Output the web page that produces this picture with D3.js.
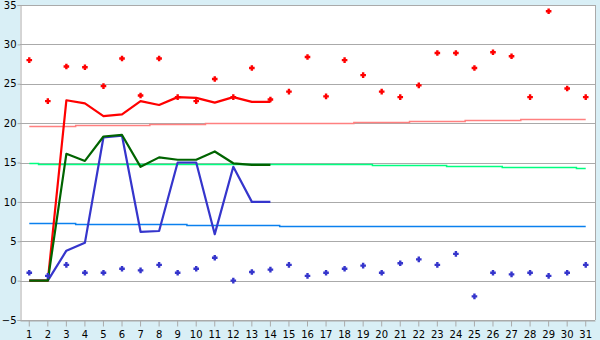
<!DOCTYPE html>
<html>
<head>
<meta charset="utf-8">
<script src="https://cdn.jsdelivr.net/npm/d3@7"></script>
<style>
  html, body { margin: 0; padding: 0; background: #d9eff6; }
  svg { display: block; }
</style>
</head>
<body>
<svg id="chart" width="600" height="340"></svg>
<script>
// ---- Data ----
const days = [1,2,3,4,5,6,7,8,9,10,11,12,13,14,15,16,17,18,19,20,21,22,23,24,25,26,27,28,29,30,31];
const yTicks = [-5,0,5,10,15,20,25,30,35];

// scatter markers
const redPoints  = [28.0,22.8,27.2,27.1,24.7,28.2,23.5,28.2,23.3,22.8,25.6,23.3,27.0,23.0,24.0,28.4,23.4,28.0,26.1,24.0,23.3,24.8,28.9,28.9,27.0,29.0,28.5,23.3,34.2,24.4,23.3];
const bluePoints = [1.0,0.6,2.0,1.0,1.0,1.5,1.3,2.0,1.0,1.5,2.9,0.0,1.1,1.4,2.0,0.6,1.0,1.5,1.9,1.0,2.2,2.7,2.0,3.4,-2.0,1.0,0.8,1.0,0.6,1.0,2.0];

// thick lines (days 1-14)
const redLine   = [0,0,22.9,22.5,20.9,21.1,22.8,22.3,23.3,23.2,22.6,23.3,22.7,22.7];
const greenLine = [0,0,16.1,15.2,18.3,18.5,14.45,15.65,15.35,15.35,16.4,14.9,14.7,14.7];
const blueLine  = [0,0,3.8,4.8,18.2,18.4,6.2,6.3,15.0,15.0,5.9,14.45,10.0,10.0];

// thin stepped reference lines (all days)
const pinkRef  = [19.6,19.6,19.6,19.72,19.72,19.72,19.72,19.85,19.85,19.85,19.97,19.97,19.97,19.97,19.97,19.97,19.97,19.97,20.1,20.1,20.1,20.23,20.23,20.23,20.36,20.36,20.36,20.48,20.48,20.48,20.48];
const greenRef = [15.0,14.86,14.86,14.86,14.86,14.86,14.86,14.86,14.86,14.86,14.86,14.86,14.86,14.86,14.86,14.86,14.86,14.86,14.86,14.63,14.63,14.63,14.63,14.5,14.5,14.5,14.38,14.38,14.38,14.38,14.25];
const blueRef  = [7.38,7.38,7.38,7.25,7.25,7.25,7.25,7.25,7.25,7.12,7.12,7.12,7.12,7.12,7.0,7.0,7.0,7.0,7.0,7.0,7.0,7.0,7.0,7.0,7.0,7.0,7.0,7.0,7.0,7.0,7.0];

// ---- Layout ----
const svg = d3.select("#chart");
const L = 20, R = 595, T = 5, B = 320;
const font = "DejaVu Sans, Verdana, sans-serif";

const x = d3.scaleBand().domain(days).range([L, R]).padding(0);
const cx = d => x(d) + x.bandwidth() / 2;
const y = d3.scaleLinear().domain([-5, 35]).range([B, T]);
const crisp = v => Math.round(v) + 0.5;

svg.append("rect").attr("x", 0).attr("y", 0).attr("width", 600).attr("height", 340).attr("fill", "#d9eff6");
svg.append("rect").attr("x", L).attr("y", T).attr("width", R - L).attr("height", B - T).attr("fill", "#ffffff");

// gridlines
svg.append("g").selectAll("line").data(yTicks).join("line")
  .attr("x1", L).attr("x2", R)
  .attr("y1", d => crisp(y(d))).attr("y2", d => crisp(y(d)))
  .attr("stroke", "#aaaaaa").attr("stroke-width", 1);

// right border
svg.append("line").attr("x1", crisp(R)).attr("x2", crisp(R)).attr("y1", T).attr("y2", B)
  .attr("stroke", "#aaaaaa");

// axes
const yAxis = svg.append("g").attr("transform", `translate(${crisp(L)},0)`)
  .call(d3.axisLeft(y).tickValues(yTicks).tickSize(3).tickPadding(1).tickFormat(d3.format("d")));
yAxis.select(".domain").attr("stroke", "#aaaaaa");
yAxis.selectAll(".tick line").attr("stroke", "#aaaaaa");
yAxis.selectAll("text").attr("font-family", font).attr("font-size", 10).attr("fill", "#000");

const xAxis = svg.append("g").attr("transform", `translate(0,${crisp(B)})`)
  .call(d3.axisBottom(x).tickSize(6).tickPadding(4).tickSizeOuter(0));
xAxis.select(".domain").attr("stroke", "#aaaaaa");
xAxis.selectAll(".tick line").attr("stroke", "#aaaaaa");
xAxis.selectAll("text").attr("font-family", font).attr("font-size", 10).attr("fill", "#000");

// thin reference lines (step)
const stepLine = d3.line().x((d, i) => cx(days[i])).y(d => crisp(y(d))).curve(d3.curveStep);
[[pinkRef, "#ff8080"], [greenRef, "#00ff80"], [blueRef, "#0a80ee"]].forEach(([data, c]) => {
  svg.append("path").datum(data).attr("d", stepLine)
    .attr("fill", "none").attr("stroke", c).attr("stroke-width", 1.5);
});

// thick lines
const line = d3.line().x((d, i) => cx(days[i])).y(d => y(d));
[[blueLine, "#3535cc"], [redLine, "#ff0000"], [greenLine, "#006400"]].forEach(([data, c]) => {
  svg.append("path").datum(data).attr("d", line)
    .attr("fill", "none").attr("stroke", c).attr("stroke-width", 2.2)
    .attr("stroke-linejoin", "round");
});

// markers: bold plus shape
const plusSymbol = {
  draw(ctx, size) {
    const a = 2.8, w = 1.2;
    ctx.moveTo(-a, -w); ctx.lineTo(-w, -w); ctx.lineTo(-w, -a); ctx.lineTo(w, -a);
    ctx.lineTo(w, -w); ctx.lineTo(a, -w); ctx.lineTo(a, w); ctx.lineTo(w, w);
    ctx.lineTo(w, a); ctx.lineTo(-w, a); ctx.lineTo(-w, w); ctx.lineTo(-a, w);
    ctx.closePath();
  }
};
const sym = d3.symbol().type(plusSymbol);
[[redPoints, "#ff0000"], [bluePoints, "#3535cc"]].forEach(([data, c]) => {
  svg.append("g").selectAll("path").data(data).join("path")
    .attr("d", sym)
    .attr("transform", (d, i) => `translate(${cx(days[i])},${y(d)})`)
    .attr("fill", c);
});
</script>
</body>
</html>
